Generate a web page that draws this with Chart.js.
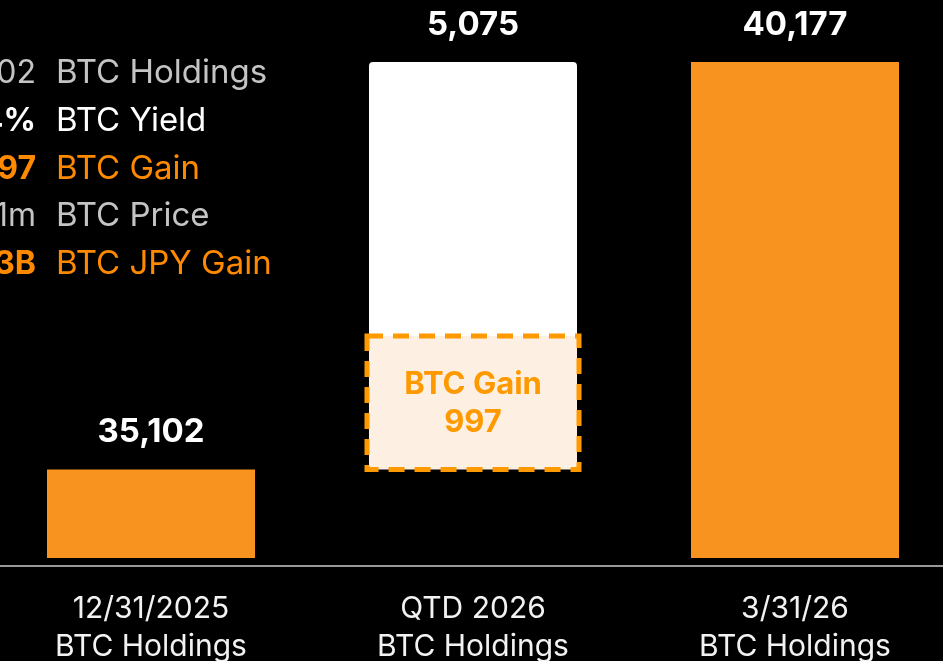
<!DOCTYPE html>
<html>
<head>
<meta charset="utf-8">
<script src="https://cdn.jsdelivr.net/npm/chart.js@4"></script>
<style>
  html, body { margin: 0; padding: 0; background: #000; }
  #wrap { position: relative; width: 943px; height: 661px; overflow: hidden; background: #000; }
  #chart { position: absolute; left: -70px; top: 0; }
</style>
</head>
<body>
<div id="wrap"><canvas id="chart" width="1040" height="700"></canvas></div>
<script>
// data
const categories = [["12/31/2025", "BTC Holdings"], ["QTD 2026", "BTC Holdings"], ["3/31/26", "BTC Holdings"]];
const holdings = [35102, null, 40177];
const quarterChange = 5075;
const btcGain = 997;
const gainDrawnTop = 36765;   // where the dashed box ends in the picture (not to scale)
const barBase = 34000;
const yMin = 33900;
const yMax = 40950;

const legendValues = ["35,102", "2.84%", "997", "¥12.1m", "¥12.3B"];
const legendLabels = ["BTC Holdings", "BTC Yield", "BTC Gain", "BTC Price", "BTC JPY Gain"];

const ORANGE = "#F7931E";
const TEXT_ORANGE = "#FF8A00";
const FONT = "Inter, 'Noto Sans', sans-serif";

const start = holdings[0];
const end = holdings[2];

const labelPlugin = {
  id: "labels",
  afterDatasetsDraw(chart) {
    const c = chart.ctx;
    c.save();
    c.textAlign = "center";
    c.textBaseline = "middle";

    // value labels over the bars
    c.fillStyle = "#fff";
    c.font = "bold 33px " + FONT;
    const m0 = chart.getDatasetMeta(0);
    const m2 = chart.getDatasetMeta(2);
    [0, 2].forEach(i => {
      const el = m0.data[i];
      c.fillText(holdings[i].toLocaleString("en-US"), el.x, el.y - 37);
    });
    const w = m2.data[1];
    c.fillText(quarterChange.toLocaleString("en-US"), w.x, w.y - 37);

    // dashed gain box
    const g = chart.getDatasetMeta(1).data[1];
    const half = g.width / 2 + 2;
    c.setLineDash([16, 10]);
    c.lineWidth = 5;
    c.strokeStyle = "#FF9900";
    c.strokeRect(g.x - half, g.y, half * 2, g.base - g.y);
    c.setLineDash([]);
    c.fillStyle = "#FF9900";
    c.font = "bold 31px " + FONT;
    const mid = (g.y + g.base) / 2;
    c.fillText("BTC Gain", g.x, mid - 18);
    c.fillText(String(btcGain), g.x, mid + 20);

    // side legend (cut off at the left edge)
    const colors = ["#c4c4c4", "#fff", TEXT_ORANGE, "#c4c4c4", TEXT_ORANGE];
    const bold = [false, true, true, false, true];
    const rowY = [73, 121, 169, 216, 264];
    legendLabels.forEach((lab, i) => {
      c.fillStyle = colors[i];
      c.textAlign = "right";
      c.font = (bold[i] ? "bold " : "") + "32px " + FONT;
      c.fillText(legendValues[i], 106, rowY[i]);
      c.textAlign = "left";
      c.font = "33px " + FONT;
      c.fillText(lab, 126, rowY[i]);
    });
    c.restore();
  }
};

new Chart(document.getElementById("chart"), {
  type: "bar",
  data: {
    labels: categories,
    datasets: [
      {
        label: "Holdings",
        data: holdings.map(v => v === null ? null : [barBase, v]),
        backgroundColor: ORANGE,
        borderWidth: 0
      },
      {
        label: "BTC Gain",
        data: [null, [start, gainDrawnTop], null],
        backgroundColor: "#FDF0E3",
        borderWidth: 0
      },
      {
        label: "Other",
        data: [null, [gainDrawnTop, end], null],
        backgroundColor: "#ffffff",
        borderRadius: { topLeft: 4, topRight: 4 },
        borderSkipped: false,
        borderWidth: 0
      }
    ]
  },
  options: {
    responsive: false,
    animation: false,
    devicePixelRatio: 1,
    grouped: false,
    barPercentage: 0.646,
    categoryPercentage: 1,
    layout: { padding: { left: 60, right: 14, top: 0, bottom: 18 } },
    plugins: { legend: { display: false }, tooltip: { enabled: false } },
    scales: {
      y: { display: false, min: yMin, max: yMax },
      x: {
        grid: { display: false },
        border: { display: true, color: "#999999", width: 2 },
        ticks: {
          color: "#f2f2f2",
          padding: 16,
          font: { family: FONT, size: 30, lineHeight: "38px" }
        }
      }
    }
  },
  plugins: [labelPlugin]
});
</script>
</body>
</html>
